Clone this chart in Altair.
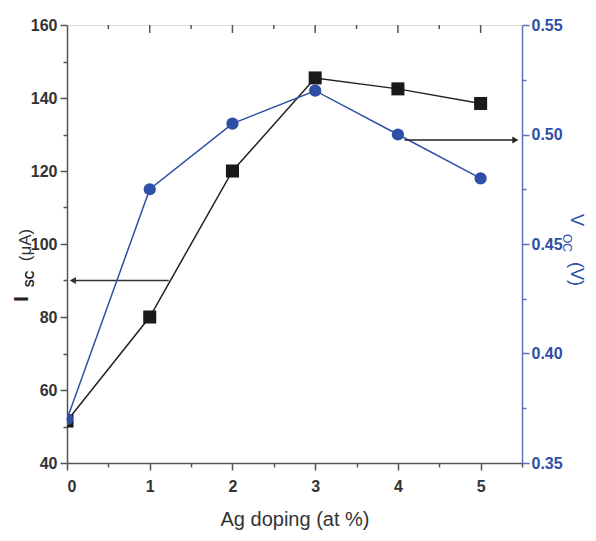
import altair as alt
import pandas as pd

# ---- data ----
doping = [0, 1, 2, 3, 4, 5]
isc = [51.5, 80, 120, 145.5, 142.5, 138.5]          # left axis, µA
voc = [0.370, 0.475, 0.505, 0.520, 0.500, 0.480]    # right axis, V

arrow_isc_x = [1.23]     # arrow start (points to left axis)
arrow_isc_x2 = [0.07]
arrow_isc_y = [90]
arrow_voc_x = [4.08]     # arrow start (points to right axis)
arrow_voc_x2 = [5.42]
arrow_voc_y = [0.4975]

x_ticks = [0, 0.5, 1, 1.5, 2, 2.5, 3, 3.5, 4, 4.5, 5, 5.5]
top_major = [1, 2, 3, 4, 5]
top_minor = [0.5, 1.5, 2.5, 3.5, 4.5]
left_ticks = [40, 50, 60, 70, 80, 90, 100, 110, 120, 130, 140, 150, 160]
right_ticks = [0.35, 0.375, 0.40, 0.425, 0.45, 0.475, 0.50, 0.525, 0.55]

FONT = "Liberation Sans"
DARK = "#333333"
GRAY = "#555555"
BLUE = "#2f4fa6"
AXBLUE = "#5b72b9"

df = pd.DataFrame({"doping": doping, "isc": isc, "voc": voc})

xscale = alt.Scale(domain=[0, 5.5], nice=False, zero=False)
x_axis = alt.Axis(
    values=x_ticks,
    labelExpr="datum.value % 1 === 0 ? format(datum.value, 'd') : ''",
    tickSize={"condition": {"test": "datum.value % 1 === 0", "value": 7}, "value": 4},
    title="Ag doping (at %)",
    titleFont=FONT, titleFontSize=20, titleFontWeight="normal", titleColor=DARK,
    titlePadding=15,
    labelFont=FONT, labelFontSize=16, labelFontWeight="bold", labelColor=DARK,
    labelPadding=8, domainColor=GRAY, tickColor=GRAY, domainWidth=1.5, tickWidth=1.5,
    grid=False,
)
X = alt.X("doping:Q", scale=xscale, axis=x_axis)

lscale = alt.Scale(domain=[40, 160], nice=False, zero=False)
l_axis = alt.Axis(
    values=left_ticks,
    labelExpr="datum.value % 20 === 0 ? datum.label : ''",
    tickSize={"condition": {"test": "datum.value % 20 === 0", "value": 7}, "value": 4},
    title=None, labelFont=FONT, labelFontSize=16, labelFontWeight="bold", labelColor=DARK,
    labelPadding=3, domainColor=GRAY, tickColor=GRAY, domainWidth=1.5, tickWidth=1.5,
    grid=False, orient="left",
)
rscale = alt.Scale(domain=[0.35, 0.55], nice=False, zero=False)
r_axis = alt.Axis(
    values=right_ticks, format=".2f",
    labelExpr="round(datum.value * 1000) % 50 === 0 ? datum.label : ''",
    tickSize={"condition": {"test": "round(datum.value * 1000) % 50 === 0", "value": 7}, "value": 4},
    title=None, labelFont=FONT, labelFontSize=16, labelFontWeight="bold", labelColor=BLUE,
    labelPadding=2, domainColor=AXBLUE, tickColor=AXBLUE, domainWidth=1.5, tickWidth=1.5,
    grid=False, orient="right",
)

base = alt.Chart(df)

l_line = base.mark_line(color="#222222", strokeWidth=1.5).encode(
    x=X, y=alt.Y("isc:Q", scale=lscale, axis=l_axis))
l_pts = base.mark_point(shape="square", filled=True, size=170, color="#1a1a1a",
                        opacity=1, clip=True).encode(
    x=X, y=alt.Y("isc:Q", scale=lscale, axis=l_axis))
la_df = pd.DataFrame({"x": arrow_isc_x, "x2": arrow_isc_x2, "y": arrow_isc_y})
l_arrow = alt.Chart(la_df).mark_rule(color=DARK, strokeWidth=1.5).encode(
    x=alt.X("x:Q", scale=xscale, axis=x_axis), x2="x2:Q",
    y=alt.Y("y:Q", scale=lscale, axis=l_axis))
l_head = alt.Chart(la_df).mark_point(shape="triangle-left", filled=True, size=50,
                                     color=DARK, opacity=1).encode(
    x=alt.X("x2:Q", scale=xscale, axis=x_axis),
    y=alt.Y("y:Q", scale=lscale, axis=l_axis))

# top axis ticks (inward)
top_major_df = pd.DataFrame({"t": top_major})
top_minor_df = pd.DataFrame({"t": top_minor})
top_maj = alt.Chart(top_major_df).mark_rule(color=GRAY, strokeWidth=1.5).encode(
    x=alt.X("t:Q", scale=xscale, axis=x_axis), y=alt.value(0), y2=alt.value(8))
top_min = alt.Chart(top_minor_df).mark_rule(color=GRAY, strokeWidth=1.5).encode(
    x=alt.X("t:Q", scale=xscale, axis=x_axis), y=alt.value(0), y2=alt.value(4))

left = alt.layer(top_maj, top_min, l_line, l_pts, l_arrow, l_head)

r_line = base.mark_line(color=BLUE, strokeWidth=1.5).encode(
    x=X, y=alt.Y("voc:Q", scale=rscale, axis=r_axis))
r_pts = base.mark_circle(size=150, color=BLUE, opacity=1, clip=True).encode(
    x=X, y=alt.Y("voc:Q", scale=rscale, axis=r_axis))
ra_df = pd.DataFrame({"x": arrow_voc_x, "x2": arrow_voc_x2, "y": arrow_voc_y})
r_arrow = alt.Chart(ra_df).mark_rule(color="#222222", strokeWidth=1.5).encode(
    x=alt.X("x:Q", scale=xscale, axis=x_axis), x2="x2:Q",
    y=alt.Y("y:Q", scale=rscale, axis=r_axis))
r_head = alt.Chart(ra_df).mark_point(shape="triangle-right", filled=True, size=50,
                                     color="#222222", opacity=1).encode(
    x=alt.X("x2:Q", scale=xscale, axis=x_axis),
    y=alt.Y("y:Q", scale=rscale, axis=r_axis))

# axis titles with subscripts (baseline placed explicitly)
one = pd.DataFrame({"a": [0]})
def label(txt, x, y, size, angle, color, weight="normal"):
    return alt.Chart(one).mark_text(
        text=txt, font=FONT, fontSize=size, fontWeight=weight, angle=angle,
        color=color, align="center", baseline="alphabetic").encode(
        x=alt.value(x), y=alt.value(y))

titles = alt.layer(
    label("I", -39, 274, 20, 270, "#222222", "bold"),
    label("SC", -33, 254, 12, 270, "#222222", "bold"),
    label("(\u03bcA)", -36, 220, 17, 270, DARK),
    label("V", 504, 195, 18, 90, BLUE),
    label("OC", 496, 218, 12, 90, BLUE),
    label("(V)", 504, 249, 18, 90, BLUE),
)

right = alt.layer(r_line, r_pts, r_arrow, r_head)

chart = alt.layer(left, right, titles).resolve_scale(y="independent").properties(
    width=455, height=438,
    autosize=alt.AutoSizeParams(type="none"),
    padding={"left": 59, "top": 17, "right": 66, "bottom": 70},
).configure_view(stroke=GRAY, strokeWidth=1.5).configure(background="white")

chart.save("out.html", embed_options={"renderer": "svg", "actions": False})
